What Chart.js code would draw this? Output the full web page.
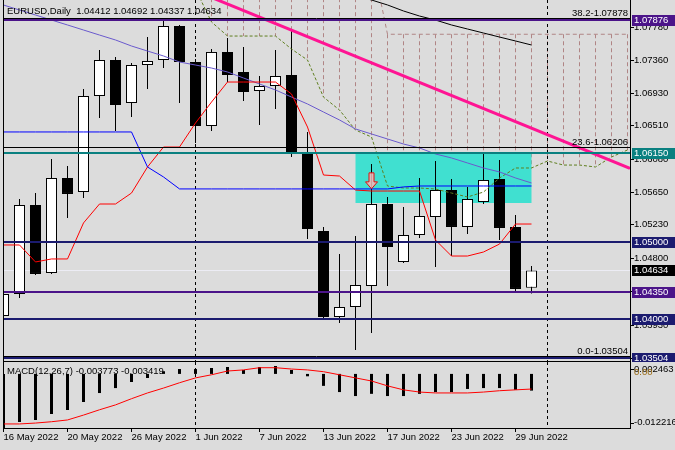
<!DOCTYPE html>
<html>
<head>
<meta charset="utf-8">
<script src="https://cdn.jsdelivr.net/npm/chart.js@4"></script>
<style>
  body { margin: 0; background: #dcdcdc; }
  #wrap { position: relative; width: 675px; height: 450px; background: #dcdcdc; overflow: hidden; }
  #main { position: absolute; left: 0; top: 0; }
  #macd { position: absolute; left: 0; top: 362px; }
</style>
</head>
<body>
<div id="wrap">
  <canvas id="main" width="675" height="362"></canvas>
  <canvas id="macd" width="675" height="88"></canvas>
</div>
<script>
// --- data (EURUSD daily, 16 May - 30 Jun 2022) ---
const dates = ['16 May 2022','17 May 2022','18 May 2022','19 May 2022','20 May 2022',
  '23 May 2022','24 May 2022','25 May 2022','26 May 2022','27 May 2022','30 May 2022','31 May 2022',
  '1 Jun 2022','2 Jun 2022','3 Jun 2022','6 Jun 2022','7 Jun 2022','8 Jun 2022','9 Jun 2022','10 Jun 2022',
  '13 Jun 2022','14 Jun 2022','15 Jun 2022','16 Jun 2022','17 Jun 2022','20 Jun 2022','21 Jun 2022',
  '22 Jun 2022','23 Jun 2022','24 Jun 2022','27 Jun 2022','28 Jun 2022','29 Jun 2022','30 Jun 2022'];
const dateTickIdx = [0, 4, 8, 12, 16, 20, 24, 28, 32];

const opens  = [1.04045,1.04330,1.05481,1.04602,1.05831,1.05649,1.06891,1.07357,1.06801,1.07292,
  1.07357,1.07797,1.07331,1.06503,1.07461,1.07202,1.06956,1.07021,1.07163,1.06167,
  1.05145,1.04032,1.04162,1.04433,1.05494,1.04744,1.05093,1.05326,1.05675,1.05197,
  1.05520,1.05818,1.05197,1.04412];
const highs  = [1.04433,1.05559,1.05636,1.06076,1.05986,1.06982,1.07486,1.07396,1.07318,1.07655,
  1.07862,1.07810,1.07370,1.07499,1.07642,1.07525,1.07150,1.07486,1.07758,1.06426,
  1.05197,1.04847,1.05080,1.06012,1.05585,1.05455,1.05831,1.06050,1.05818,1.05714,
  1.06167,1.06063,1.05352,1.04692];
const lows   = [1.03890,1.04278,1.04576,1.04589,1.05313,1.05572,1.06607,1.06439,1.06620,1.06982,
  1.07254,1.06801,1.06283,1.06439,1.07072,1.06827,1.06516,1.06723,1.06102,1.05041,
  1.03994,1.03955,1.03605,1.03825,1.04433,1.04731,1.05054,1.04679,1.04821,1.05106,
  1.05494,1.05028,1.04343,1.04337];
const closes = [1.04330,1.05481,1.04589,1.05831,1.05624,1.06891,1.07357,1.06775,1.07292,1.07344,
  1.07797,1.07331,1.06503,1.07461,1.07163,1.06943,1.07021,1.07150,1.06154,1.05171,
  1.04032,1.04162,1.04446,1.05494,1.04938,1.05093,1.05339,1.05675,1.05197,1.05559,
  1.05805,1.05184,1.04395,1.04634];

// Ichimoku lines
const tenkan = [1.04964,1.04964,1.04744,1.04783,1.04783,1.05249,1.05494,1.05494,1.05636,1.05973,
  1.06231,1.06231,1.06542,1.06813,1.07072,1.07072,1.07072,1.07072,1.06917,1.06490,
  1.05869,1.05856,1.05675,1.05662,1.05662,1.05662,1.05662,1.05028,1.04821,1.04821,
  1.04873,1.04976,1.05235,1.05235];
const kijun = [1.06426,1.06426,1.06426,1.06426,1.06426,1.06426,1.06426,1.06426,1.06426,1.05973,
  1.05844,1.05689,1.05689,1.05689,1.05689,1.05689,1.05689,1.05689,1.05689,1.05689,
  1.05689,1.05689,1.05689,1.05689,1.05689,1.05715,1.05727,1.05727,1.05727,1.05727,
  1.05727,1.05727,1.05727,1.05727];
const senkouStart = 12;
const senkouA = [1.0870,1.0870,1.0870,1.0870,1.0870,1.0870,1.0870,1.0870,1.0870,1.0870,1.0870,1.0870,
  1.0769,1.0769,1.0769,1.0769,1.0769,1.0769,1.0769,1.0769,1.0769,1.0769,1.0769,1.0769,
  1.0769,1.0769,1.0769,1.0769];
const senkouB = [1.08275,1.07849,1.07667,1.07667,1.07667,1.07667,1.07499,1.07357,1.06877,1.06710,
  1.06451,1.06361,1.05727,1.05701,1.05701,1.05688,1.05636,1.05585,1.05649,1.05830,
  1.05960,1.05960,1.06050,1.05998,1.05998,1.05973,1.06102,1.06193];

// moving averages
const slateMA = [1.08068,1.08004,1.07939,1.07874,1.07810,1.07745,1.07680,1.07616,1.07538,1.07473,
  1.07409,1.07331,1.07292,1.07253,1.07202,1.07124,1.07047,1.06969,1.06878,1.06788,
  1.06684,1.06581,1.06465,1.06400,1.06335,1.06270,1.06219,1.06141,1.06090,1.06025,
  1.05960,1.05909,1.05831,1.05766];
const blackMAStart = 22;
const blackMA = [1.08185,1.08133,1.08069,1.07991,1.07926,1.07874,1.07810,1.07758,1.07706,1.07654,1.07603,1.07551];

// MACD(12,26,7)
const macdHist = [-0.0122,-0.01086,-0.01041,-0.00906,-0.00815,-0.00635,-0.00432,-0.0032,-0.00183,-0.00093,
  0.0006,0.0011,0.0011,0.00133,0.00156,0.00088,0.00156,0.00178,0.00088,-0.00054,
  -0.0027,-0.0041,-0.0050,-0.0045,-0.0050,-0.0050,-0.0045,-0.0041,-0.0041,-0.0034,
  -0.0032,-0.0032,-0.0036,-0.003773];
const macdSignal = [-0.0113,-0.0113,-0.0111,-0.0108,-0.0104,-0.0093,-0.0081,-0.0070,-0.0056,-0.0043,
  -0.0032,-0.0020,-0.0009,-0.0002,0.00065,0.0009,0.0014,0.0014,0.0011,0.0009,
  0.0005,-0.0002,-0.0009,-0.0016,-0.0027,-0.0036,-0.0041,-0.0043,-0.0043,-0.0043,
  -0.0041,-0.0038,-0.0036,-0.003419];
const macdMax = 0.002463;
const macdMin = -0.012216;

// axis ticks, levels, objects
const priceTicks = [1.0778,1.0736,1.0693,1.0651,1.0608,1.0565,1.0523,1.0480,1.0437,1.0393,1.0350];
const levelValues = [1.07876, 1.06150, 1.05000, 1.04350, 1.04000, 1.03504];
const fibNames = ['38.2', '23.6', '0.0'];
const fibValues = [1.07878, 1.06206, 1.03504];
const separatorIdx = [12, 34];
const zoneX = [22, 33];
const zoneY = [1.0551, 1.0615];
const trendX = [13, 39.15];
const trendY = [1.08166, 1.05955];
const arrowX = [23];
const arrowY = [1.0569];

// --- styles ---
const levelColors = ['#4b1489', '#0a8080', '#1b1b6f', '#4b1489', '#1b1b6f', '#1b1b6f'];
const FONT = '9.5px "Liberation Sans", Arial, sans-serif';
const xMin = -0.03125, xMax = 39.15625;     // 16 px per bar, bar 0 on the left edge
const priceMax = 1.081332, priceMin = 1.034501;

Chart.defaults.font.family = '"Liberation Sans", Arial, sans-serif';
Chart.defaults.font.size = 9.5;
Chart.defaults.color = '#000';

const pts = (arr, start = 0) => arr.map((v, k) => ({ x: start + k, y: v }));

function clipTo(ctx, a) {
    ctx.beginPath();
    ctx.rect(a.left, a.top, a.right - a.left, a.bottom - a.top);
    ctx.clip();
}

function drawSeparators(chart) {
    const { ctx, chartArea: a, scales: { x } } = chart;
    ctx.strokeStyle = '#000';
    ctx.lineWidth = 1;
    ctx.setLineDash([3, 3]);
    separatorIdx.forEach(i => {
        const px = x.getPixelForValue(i);
        ctx.beginPath();
        ctx.moveTo(px, a.top);
        ctx.lineTo(px, a.bottom);
        ctx.stroke();
    });
    ctx.setLineDash([]);
}

const mainDecor = {
    id: 'mainDecor',
    beforeDatasetsDraw(chart) {
        const { ctx, chartArea: a, scales: { x, y } } = chart;
        ctx.save();
        clipTo(ctx, a);
        // ichimoku cloud hatch
        ctx.strokeStyle = '#b08585';
        ctx.lineWidth = 1;
        ctx.setLineDash([4, 3]);
        senkouA.forEach((v, k) => {
            const px = x.getPixelForValue(senkouStart + k);
            ctx.beginPath();
            ctx.moveTo(px, y.getPixelForValue(v));
            ctx.lineTo(px, y.getPixelForValue(senkouB[k]));
            ctx.stroke();
        });
        ctx.setLineDash([]);
        // resistance zone
        const zx0 = x.getPixelForValue(zoneX[0]), zx1 = x.getPixelForValue(zoneX[1]);
        const zy0 = Math.round(y.getPixelForValue(zoneY[1])), zy1 = Math.round(y.getPixelForValue(zoneY[0]));
        ctx.fillStyle = '#40e0d0';
        ctx.fillRect(zx0, zy0, zx1 - zx0, zy1 - zy0);
        // bid line
        const bid = Math.round(y.getPixelForValue(closes[closes.length - 1])) + 0.5;
        ctx.strokeStyle = '#ececf4';
        ctx.beginPath();
        ctx.moveTo(a.left, bid);
        ctx.lineTo(a.right, bid);
        ctx.stroke();
        drawSeparators(chart);
        ctx.restore();
    },
    afterDatasetsDraw(chart) {
        const { ctx, chartArea: a, scales: { x, y } } = chart;
        ctx.save();
        clipTo(ctx, a);
        // horizontal levels
        levelValues.forEach((v, k) => {
            const py = Math.round(y.getPixelForValue(v));
            ctx.fillStyle = levelColors[k];
            ctx.fillRect(a.left, py - 1, a.right - a.left, 2);
        });
        // fibo levels
        ctx.strokeStyle = '#000';
        ctx.lineWidth = 1;
        ctx.font = FONT;
        ctx.textAlign = 'right';
        ctx.textBaseline = 'bottom';
        fibValues.forEach((v, k) => {
            const py = Math.round(y.getPixelForValue(v)) - 1.5;
            ctx.beginPath();
            ctx.moveTo(a.left, py);
            ctx.lineTo(a.right, py);
            ctx.stroke();
            ctx.fillStyle = '#000';
            ctx.fillText(fibNames[k] + '-' + v.toFixed(5), a.right - 2, py - 0.5);
        });
        // sell arrow
        const ax = x.getPixelForValue(arrowX[0]), ay = y.getPixelForValue(arrowY[0]);
        ctx.beginPath();
        ctx.moveTo(ax, ay);
        ctx.lineTo(ax - 6, ay - 7);
        ctx.lineTo(ax - 2.5, ay - 7);
        ctx.lineTo(ax - 2.5, ay - 16);
        ctx.lineTo(ax + 2.5, ay - 16);
        ctx.lineTo(ax + 2.5, ay - 7);
        ctx.lineTo(ax + 6, ay - 7);
        ctx.closePath();
        ctx.fillStyle = 'rgba(245,185,185,0.85)';
        ctx.fill();
        ctx.strokeStyle = '#e01010';
        ctx.stroke();
        ctx.restore();
    },
    afterDraw(chart) {
        const { ctx, chartArea: a, scales: { y } } = chart;
        ctx.save();
        // frame
        ctx.strokeStyle = '#000';
        ctx.lineWidth = 1;
        ctx.beginPath();
        ctx.moveTo(a.left + 0.5, 0); ctx.lineTo(a.left + 0.5, a.bottom);
        ctx.moveTo(a.right + 0.5, 0); ctx.lineTo(a.right + 0.5, a.bottom);
        ctx.moveTo(a.left, a.bottom - 0.5); ctx.lineTo(a.right + 1, a.bottom - 0.5);
        ctx.stroke();
        // price scale
        ctx.font = FONT;
        ctx.textAlign = 'left';
        ctx.textBaseline = 'middle';
        ctx.fillStyle = '#000';
        priceTicks.forEach(v => {
            const py = Math.round(y.getPixelForValue(v)) + 0.5;
            ctx.beginPath();
            ctx.moveTo(a.right, py); ctx.lineTo(a.right + 4, py);
            ctx.stroke();
            ctx.fillText(v.toFixed(5), a.right + 4, py);
        });
        // price labels of the levels and of the last close
        const boxes = levelValues.map((v, k) => [v, levelColors[k]]);
        boxes.push([closes[closes.length - 1], '#000']);
        boxes.forEach(([v, c]) => {
            const py = Math.round(y.getPixelForValue(v));
            ctx.fillStyle = c;
            ctx.fillRect(a.right + 2, py - 5, 45, 11);
            ctx.fillStyle = '#fff';
            ctx.fillText(v.toFixed(5), a.right + 4, py + 0.5);
        });
        // header
        const last = closes.length - 1;
        ctx.fillStyle = '#000';
        ctx.fillText('EURUSD,Daily  ' + [opens[last], highs[last], lows[last], closes[last]]
            .map(v => v.toFixed(5)).join(' '), 7, 11);
        ctx.restore();
    }
};

const macdDecor = {
    id: 'macdDecor',
    beforeDatasetsDraw(chart) {
        const { ctx, chartArea: a } = chart;
        ctx.save();
        ctx.beginPath();
        ctx.rect(a.left, 0, a.right - a.left, a.bottom);
        ctx.clip();
        drawSeparators({ ctx, chartArea: { top: 0, bottom: a.bottom }, scales: chart.scales });
        ctx.restore();
    },
    afterDraw(chart) {
        const { ctx, chartArea: a, scales: { y } } = chart;
        ctx.save();
        ctx.strokeStyle = '#000';
        ctx.lineWidth = 1;
        ctx.beginPath();
        ctx.moveTo(a.left + 0.5, 0); ctx.lineTo(a.left + 0.5, a.bottom);
        ctx.moveTo(a.right + 0.5, 0); ctx.lineTo(a.right + 0.5, a.bottom + 0.5);
        ctx.moveTo(a.left, a.bottom + 0.5); ctx.lineTo(a.right + 1, a.bottom + 0.5);
        ctx.stroke();
        ctx.font = FONT;
        ctx.textAlign = 'left';
        ctx.textBaseline = 'middle';
        const last = macdHist.length - 1;
        ctx.fillStyle = '#000';
        ctx.fillText('MACD(12,26,7) ' + macdHist[last].toFixed(6) + ' ' + macdSignal[last].toFixed(6), 7, 9);
        // scale labels
        const yTop = y.getPixelForValue(macdMax) + 6;
        const yBot = y.getPixelForValue(macdMin) - 5.5;
        const yZero = y.getPixelForValue(0) - 2;
        [yTop, yBot].forEach(py => {
            ctx.beginPath();
            ctx.moveTo(a.right, Math.round(py) + 0.5); ctx.lineTo(a.right + 4, Math.round(py) + 0.5);
            ctx.stroke();
        });
        ctx.fillText(macdMax.toFixed(6), a.right + 4, yTop);
        ctx.fillText(macdMin.toFixed(6), a.right + 4, yBot);
        ctx.fillStyle = '#9a6a10';
        ctx.fillText('0.00', a.right + 4, yZero);
        ctx.restore();
    }
};

const barCommon = { grouped: false, borderSkipped: false, inflateAmount: 0, clip: 0 };
const lineCommon = { type: 'line', pointRadius: 0, borderWidth: 1, tension: 0, clip: 0 };

// --- price chart ---
new Chart(document.getElementById('main'), {
    type: 'bar',
    data: {
        datasets: [
            { ...barCommon, data: opens.map((o, i) => ({ x: i, y: [lows[i], highs[i]] })),
              backgroundColor: '#000', barThickness: 1, maxBarThickness: 1, order: 9 },
            { ...barCommon, data: opens.map((o, i) => ({ x: i, y: [o, closes[i]] })),
              backgroundColor: opens.map((o, i) => closes[i] >= o ? '#ffffff' : '#000000'),
              borderColor: '#000', borderWidth: 1, barThickness: 11, maxBarThickness: 11, order: 8 },
            { ...lineCommon, data: pts(senkouA, senkouStart), borderColor: '#b08585', borderDash: [4, 3], order: 4 },
            { ...lineCommon, data: pts(senkouB, senkouStart), borderColor: '#5f7f1f', borderDash: [3, 2], order: 4 },
            { ...lineCommon, data: pts(slateMA), borderColor: '#6a5acd', order: 3 },
            { ...lineCommon, data: pts(blackMA, blackMAStart), borderColor: '#000', order: 3 },
            { ...lineCommon, data: pts(kijun), borderColor: '#0000ff', order: 2 },
            { ...lineCommon, data: pts(tenkan), borderColor: '#ff0000', order: 2 },
            { ...lineCommon, data: trendX.map((v, k) => ({ x: v, y: trendY[k] })),
              borderColor: '#ff1493', borderWidth: 3, order: 0 }
        ]
    },
    options: {
        responsive: false,
        animation: false,
        devicePixelRatio: 1,
        events: [],
        layout: { padding: { left: 3, right: 45, top: 0, bottom: 0 } },
        plugins: { legend: { display: false }, tooltip: { enabled: false } },
        scales: {
            x: { type: 'linear', display: false, offset: false, min: xMin, max: xMax },
            y: { type: 'linear', display: false, min: priceMin, max: priceMax }
        }
    },
    plugins: [mainDecor]
});

// --- MACD window ---
new Chart(document.getElementById('macd'), {
    type: 'bar',
    data: {
        datasets: [
            { ...barCommon, data: pts(macdHist), backgroundColor: '#000',
              barThickness: 3, maxBarThickness: 3, order: 2 },
            { ...lineCommon, data: pts(macdSignal), borderColor: '#ff0000', order: 1 }
        ]
    },
    options: {
        responsive: false,
        animation: false,
        devicePixelRatio: 1,
        events: [],
        layout: { padding: { left: 3, right: 45, top: 1, bottom: 0 } },
        plugins: { legend: { display: false }, tooltip: { enabled: false } },
        scales: {
            x: {
                type: 'linear', offset: false, min: xMin, max: xMax,
                border: { display: false },
                grid: { offset: false, drawOnChartArea: false, drawTicks: true, tickLength: 4, color: '#000' },
                ticks: {
                    align: 'start', padding: 0, autoSkip: false, maxRotation: 0, minRotation: 0,
                    color: '#000', callback: (v) => dates[v]
                },
                afterBuildTicks: (scale) => { scale.ticks = dateTickIdx.map(v => ({ value: v })); },
                afterFit: (scale) => { scale.height = 22; }
            },
            y: { type: 'linear', display: false, min: macdMin, max: macdMax }
        }
    },
    plugins: [macdDecor]
});
</script>
</body>
</html>
